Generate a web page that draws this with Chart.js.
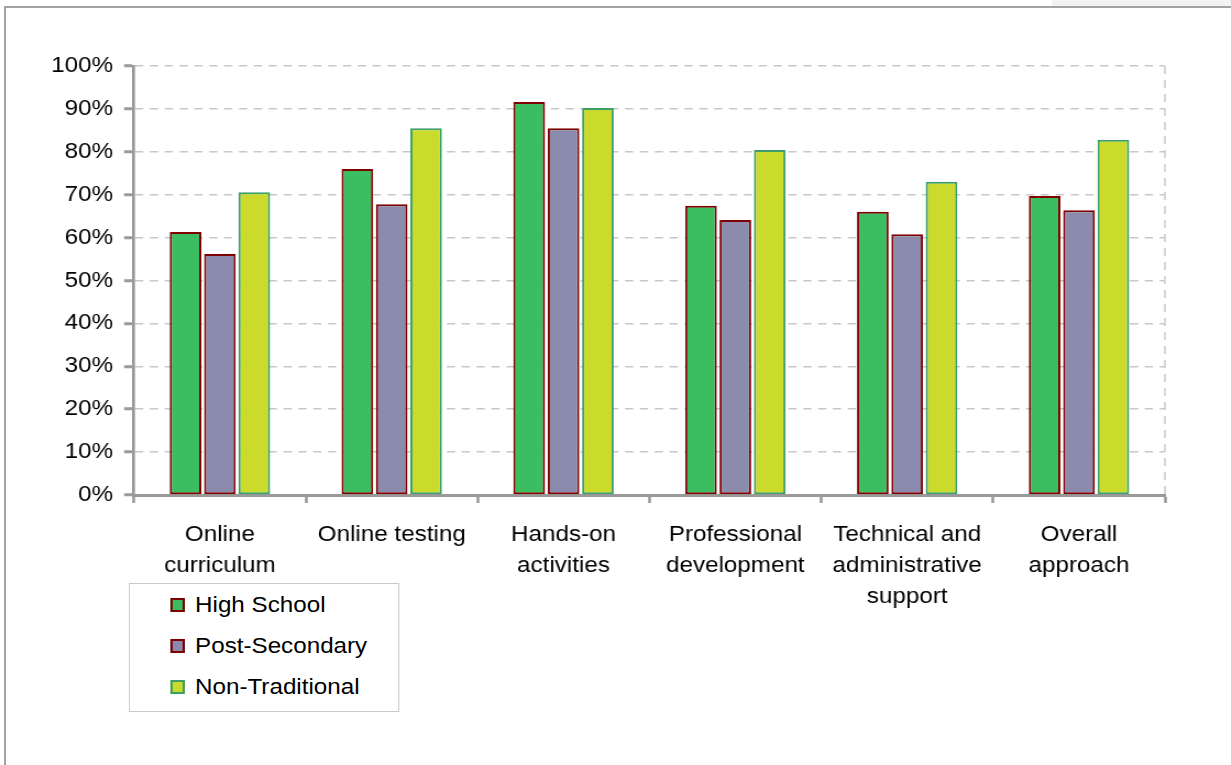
<!DOCTYPE html>
<html>
<head>
<meta charset="utf-8">
<script src="https://cdn.jsdelivr.net/npm/chart.js@4"></script>
<style>
  html, body { margin: 0; padding: 0; background: #fff; overflow: hidden; }
  body { width: 1231px; height: 765px; position: relative; font-family: "Liberation Sans", Arial, sans-serif; }
  .frame-top { position: absolute; left: 4px; right: 0; top: 6px; height: 2px; background: #a3a3a3; }
  .frame-left { position: absolute; left: 4px; top: 6px; bottom: 0; width: 2px; background: #a3a3a3; }
  .corner { position: absolute; left: 1052px; top: 0; width: 179px; height: 6px; background: #f3f3f3; }
  #stage { position: absolute; left: 0; top: 0; width: 1119px; height: 765px; transform: scaleX(1.1); transform-origin: 0 0; }
  #chart { position: absolute; left: 0; top: 0; }
  #legend { position: absolute; left: 117.3px; top: 583px; width: 244px; height: 127px; border: 1px solid #c9c9c9; background: #fff; }
  .item { position: absolute; left: 0; height: 30px; display: flex; align-items: center; font-size: 22px; color: #000; white-space: nowrap; }
  .swatch { position: absolute; left: 37px; width: 9px; height: 10px; border: 2px solid; }
  .label { position: absolute; left: 59px; line-height: 30px; }
</style>
</head>
<body>
<div class="corner"></div>
<div class="frame-top"></div>
<div class="frame-left"></div>
<div id="stage">
  <canvas id="chart" width="1119" height="765"></canvas>
  <div id="legend"></div>
</div>
<script>
// Survey results: share of positive ratings by program component and student group
const categories = [
  ["Online", "curriculum"],
  ["Online testing"],
  ["Hands-on", "activities"],
  ["Professional", "development"],
  ["Technical and", "administrative", "support"],
  ["Overall", "approach"]
];
const seriesNames = ["High School", "Post-Secondary", "Non-Traditional"];
const highSchool     = [61.3, 76.0, 91.6, 67.4, 66.0, 69.7];
const postSecondary  = [56.2, 67.8, 85.5, 64.1, 60.8, 66.4];
const nonTraditional = [70.6, 85.5, 90.2, 80.4, 73.0, 82.8];
const yTicks = [0, 10, 20, 30, 40, 50, 60, 70, 80, 90, 100];

const fills   = ["#3bbd61", "#8b8bae", "#cbdb2c"];
const borders = ["#800000", "#800000", "#3c9e6b"];
const values  = [highSchool, postSecondary, nonTraditional];

const FONT = "'Liberation Sans', Arial, sans-serif";

// dashed right edge of the plot area
const rightEdge = {
  id: 'rightEdge',
  beforeDatasetsDraw(chart) {
    const { ctx, chartArea } = chart;
    ctx.save();
    ctx.strokeStyle = '#d2d2d2';
    ctx.lineWidth = 1.8;
    ctx.setLineDash([8, 6]);
    ctx.beginPath();
    ctx.moveTo(chartArea.right, chartArea.top);
    ctx.lineTo(chartArea.right, chartArea.bottom);
    ctx.stroke();
    ctx.restore();
  }
};

new Chart(document.getElementById('chart'), {
  type: 'bar',
  data: {
    labels: categories,
    datasets: seriesNames.map((name, i) => ({
      label: name,
      data: values[i],
      backgroundColor: fills[i],
      borderColor: borders[i],
      borderWidth: 2,
      borderSkipped: false,
      categoryPercentage: 0.6,
      barPercentage: 0.92
    }))
  },
  options: {
    responsive: false,
    maintainAspectRatio: false,
    devicePixelRatio: 1,
    animation: false,
    layout: { padding: { left: 0, right: 60, top: 66, bottom: 0 } },
    plugins: {
      legend: { display: false },
      tooltip: { enabled: false }
    },
    scales: {
      x: {
        offset: true,
        grid: {
          offset: true,
          drawOnChartArea: false,
          drawTicks: true,
          tickLength: 8,
          tickColor: '#9a9a9a',
          tickWidth: 2.6,
          color: '#9a9a9a'
        },
        border: { display: true, color: '#9a9a9a', width: 3 },
        ticks: {
          color: '#000',
          padding: 16,
          maxRotation: 0,
          autoSkip: false,
          font: { family: FONT, size: 22, lineHeight: 1.41 }
        },
        afterFit(scale) { scale.height = 270; }
      },
      y: {
        min: 0,
        max: 100,
        afterBuildTicks(scale) { scale.ticks = yTicks.map(v => ({ value: v })); },
        grid: {
          color: '#c8c8c8',
          lineWidth: 1.5,
          drawTicks: true,
          tickLength: 9,
          tickColor: '#9a9a9a',
          tickWidth: 3,
          tickBorderDash: []
        },
        // in Chart.js v4 the dash of the grid lines lives under "border"
        border: { display: true, color: '#9a9a9a', width: 2.7, dash: [7.5, 6] },
        ticks: {
          color: '#000',
          padding: 10,
          font: { family: FONT, size: 22 },
          callback: v => v + '%'
        },
        afterFit(scale) { scale.width = 121.8; }
      }
    }
  },
  plugins: [rightEdge]
});

// legend box
const legend = document.getElementById('legend');
const rowCenters = [21, 62, 103];
seriesNames.forEach((name, i) => {
  const row = document.createElement('div');
  row.className = 'item';
  row.style.top = (rowCenters[i] - 15) + 'px';
  row.style.width = '100%';
  const sw = document.createElement('span');
  sw.className = 'swatch';
  sw.style.background = fills[i];
  sw.style.borderColor = borders[i];
  sw.style.top = '8px';
  const lb = document.createElement('span');
  lb.className = 'label';
  lb.textContent = name;
  row.appendChild(sw);
  row.appendChild(lb);
  legend.appendChild(row);
});
</script>
</body>
</html>
